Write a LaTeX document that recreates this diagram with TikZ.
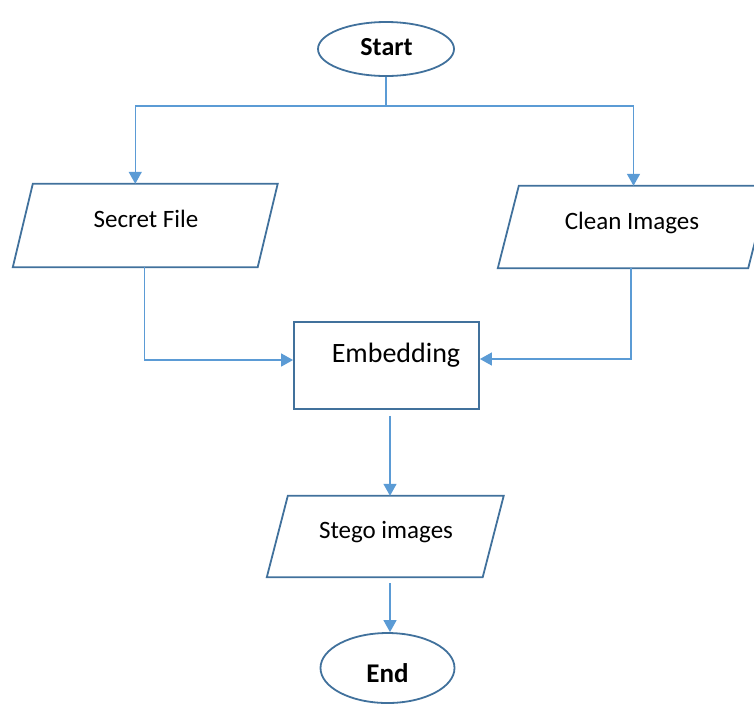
\documentclass[tikz,border=0pt]{standalone}
\usepackage{fontspec}
\setmainfont{Carlito}
\usetikzlibrary{shapes.geometric,arrows.meta}
\definecolor{edgeblue}{HTML}{41719C}
\definecolor{linkblue}{HTML}{5B9BD5}
\begin{document}
\begin{tikzpicture}[x=1pt,y=-1pt,
  outline/.style={draw=edgeblue,line width=1.8pt},
  terminal/.style={outline,ellipse,inner sep=0pt},
  iobox/.style={minimum width=#1,inner sep=0pt},
  procbox/.style={outline,rectangle,inner sep=0pt},
  txt/.style={anchor=base,inner sep=0pt,font=\fontsize{25}{30}\selectfont},
  btxt/.style={anchor=base,inner sep=0pt,font=\fontsize{26}{31}\selectfont\bfseries},
  link/.style={draw=linkblue,line width=1.5pt},
  arr/.style={link,-{Triangle[length=12pt,width=13pt]}}]
\useasboundingbox (0,0) rectangle (754,705);

% terminals
\node[terminal,minimum width=136pt,minimum height=54pt] (start) at (386,49) {};
\node[terminal,minimum width=134pt,minimum height=70pt] (end) at (387.5,668) {};

% input/output boxes (node body is the mid-line rectangle of each parallelogram)
\node[iobox=244.5pt,minimum height=83pt] (secret) at (145.25,225.5) {};
\node[iobox=250pt,minimum height=82pt] (clean) at (633.5,227) {};
\node[iobox=215.5pt,minimum height=81pt] (stego) at (385.25,536.5) {};

\draw[outline] ([xshift=-10pt]secret.south west) -- ([xshift=-10pt]secret.south east)
  -- ([xshift=10pt]secret.north east) -- ([xshift=10pt]secret.north west) -- cycle;
\draw[outline] ([xshift=-10.5pt]clean.south west) -- ([xshift=-10.5pt]clean.south east)
  -- ([xshift=10.5pt]clean.north east) -- ([xshift=10.5pt]clean.north west) -- cycle;
\draw[outline] ([xshift=-10.5pt]stego.south west) -- ([xshift=-10.5pt]stego.south east)
  -- ([xshift=10.5pt]stego.north east) -- ([xshift=10.5pt]stego.north west) -- cycle;

% process box
\node[procbox,minimum width=185pt,minimum height=87pt] (embed) at (386.5,365.5) {};

% labels
\node[btxt] (startt) at (386.5,55) {Start};
\node[btxt,font=\fontsize{27}{32}\selectfont\bfseries] (endt) at (387.5,682) {End};
\node[txt] (secrett) at (146,227) {Secret File};
\node[txt] (cleant) at (632,229) {Clean Images};
\node[txt,font=\fontsize{28}{33}\selectfont] (embedt) at (396,362) {Embedding};
\node[txt] (stegot) at (386,538) {Stego images};

% connectors
\coordinate (split) at (386,106);
\draw[link] (start.south) -- (split);
\draw[arr] (split) -| ([xshift=-10pt]secret.north);
\draw[arr] (split) -| (clean.north);
\draw[arr] ([xshift=-1pt]secret.south) |- ([yshift=5.5pt]embed.west);
\draw[arr] ([xshift=-2.5pt]clean.south) |- ([yshift=6.5pt]embed.east);
\draw[arr] ([xshift=3.5pt,yshift=-6pt]embed.south) -- ([xshift=4.75pt]stego.north);
\draw[arr] ([xshift=4.75pt,yshift=-6pt]stego.south) -- ([xshift=2.5pt]end.north);
\end{tikzpicture}
\end{document}
